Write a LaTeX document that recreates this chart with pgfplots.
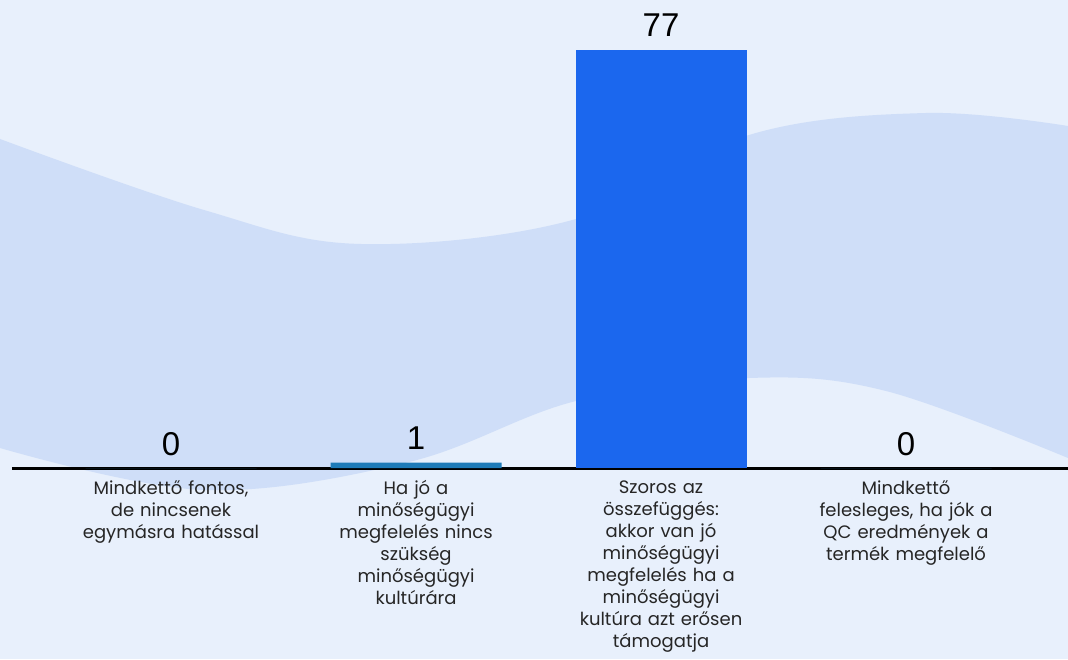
\documentclass[border=0pt]{standalone}
\usepackage{pgfplots}
\pgfplotsset{compat=1.18}
\usepackage{fontspec}
\setmainfont{Liberation Sans}
\newfontfamily\labelfont[WordSpace=0.6]{Poppins}
\definecolor{bg}{HTML}{E8F0FC}
\definecolor{band}{HTML}{CFDEF8}
\definecolor{barA}{HTML}{1E7BB8}
\definecolor{barB}{HTML}{1B67EE}
\begin{document}
\begin{tikzpicture}
\useasboundingbox (0,0) rectangle (534pt,329.5pt);
\fill[bg] (0,0) rectangle (534pt,329.5pt);
\begin{scope}[x=0.5pt,y=-0.5pt,yshift=329.5pt]
\fill[band] plot[smooth,tension=0.6] coordinates {(0,139)(204,210)(361,244)(576,219)(749,135)(926,113)(1068,126)} -- plot[smooth,tension=0.6] coordinates {(1068,458)(886,391)(749,378)(576,401)(409,462)(204,490)(0,448)} -- cycle;
\end{scope}
\begin{axis}[
  at={(6pt,95.5pt)}, anchor=south west,
  scale only axis, width=528pt, height=234pt,
  xmin=-0.649, xmax=3.661, ymin=0, ymax=86.2,
  axis x line*=bottom, axis y line=none,
  x axis line style={line width=1.5pt, black},
  xtick={0,1,2,3}, ytick=\empty, major tick length=0pt,
  /pgf/number format/assume math mode=true,
  xticklabels={{Mindkettő fontos,\\de nincsenek\\egymásra hatással},
               {Ha jó a\\minőségügyi\\megfelelés nincs\\szükség\\minőségügyi\\kultúrára},
               {Szoros az\\összefüggés:\\akkor van jó\\minőségügyi\\megfelelés ha a\\minőségügyi\\kultúra azt erősen\\támogatja},
               {Mindkettő\\felesleges, ha jók a\\QC eredmények a\\termék megfelelő}},
  xticklabel style={font=\labelfont\fontsize{9}{11}\selectfont, align=center, text width=100pt, inner sep=0pt, anchor=north, yshift=-6pt, text=black!85},
  nodes near coords,
  every node near coord/.append style={font=\fontsize{16.5}{18}\selectfont, anchor=base, yshift=6.5pt, inner sep=0pt, text=black},
  clip=false,
]
\addplot[ybar, fill=barA, draw=none, bar width=85.5pt, bar shift=0pt] coordinates {(0,0) (1,1) (3,0)};
\addplot[ybar, fill=barB, draw=none, bar width=85.5pt, bar shift=0pt] coordinates {(2,77)};
\end{axis}
\end{tikzpicture}
\end{document}
